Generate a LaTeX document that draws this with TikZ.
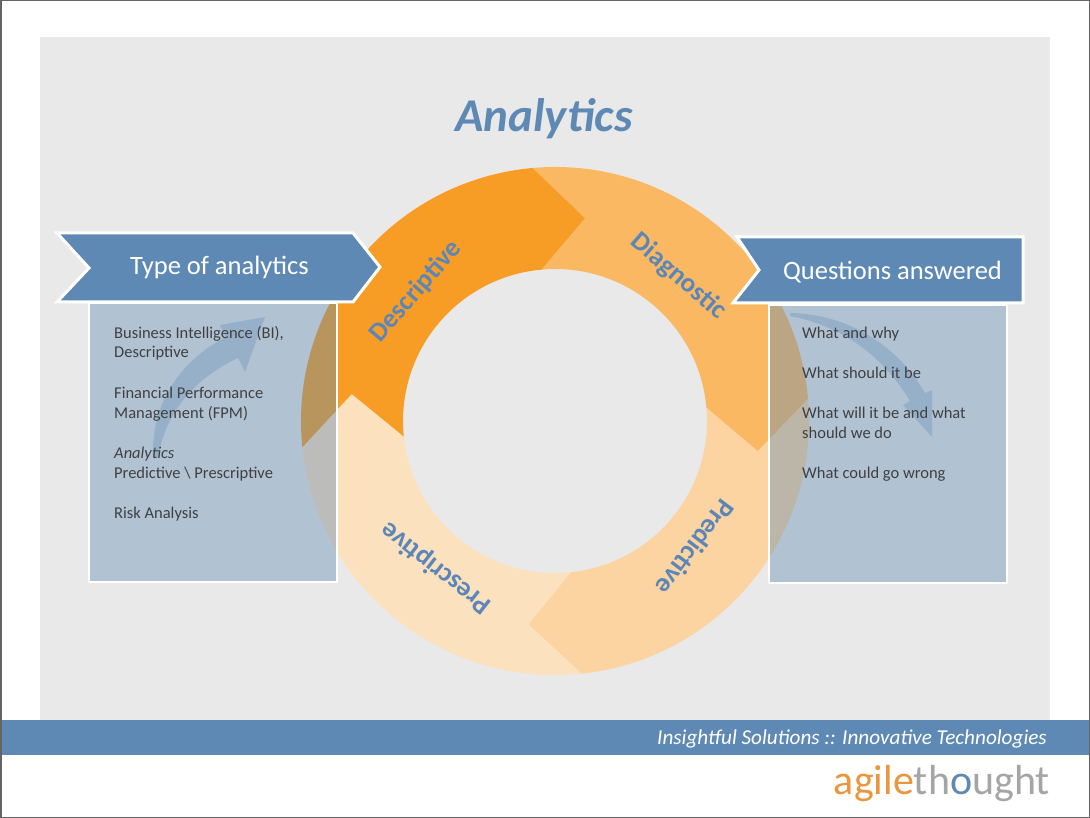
\documentclass[tikz,border=0pt]{standalone}
\usepackage{fontspec}
\setmainfont{Carlito}
\definecolor{bgpanel}{RGB}{233,233,233}
\definecolor{blueM}{RGB}{94,137,180}
\definecolor{oDesc}{RGB}{247,157,38}
\definecolor{oDiag}{RGB}{250,184,98}
\definecolor{oPred}{RGB}{252,212,161}
\definecolor{oPresc}{RGB}{252,225,190}
\definecolor{txtgray}{RGB}{64,64,64}
\definecolor{labelblue}{RGB}{91,134,183}
\definecolor{logoorange}{RGB}{233,150,62}
\definecolor{logogray}{RGB}{165,165,165}
\definecolor{framegray}{RGB}{100,100,100}
\newcommand\ringseg[3]{%
  \fill[#3] (#1:254) arc[start angle=#1, end angle=#2, radius=254pt]
    -- ({#2-13.5}:205) -- (#2:152)
    arc[start angle=#2, end angle=#1, radius=152pt]
    -- ({#1-13.5}:205) -- cycle;}
\begin{document}
\begin{tikzpicture}[x=1pt,y=-1pt,
  ringlabel/.style={font=\fontsize{27}{30}\selectfont\bfseries, text=labelblue, inner sep=0pt},
  banner/.style={fill=blueM, draw=white, line width=3pt, line join=miter},
  bannertext/.style={font=\fontsize{26.5}{30}\selectfont, text=white, anchor=base, inner sep=0pt},
  infobox/.style={fill=blueM, fill opacity=0.4, draw=white, draw opacity=1, line width=2.5pt},
  boxline/.style={font=\fontsize{16.5}{20}\selectfont, text=txtgray, anchor=base west, inner sep=0pt},
  faintarrow/.style={fill=blueM, fill opacity=0.3},
  titlestyle/.style={font=\fontsize{47}{50}\selectfont\bfseries\itshape, text=blueM, anchor=base, inner sep=0pt}
]
\useasboundingbox (0,0) rectangle (1090,818);
\fill[white] (0,0) rectangle (1090,818);
\fill[bgpanel] (40,37) rectangle (1050,720);

% title
\node[titlestyle] (title) at (544,132) {Analytics};

% ring
\begin{scope}[shift={(555,421)}, y=1pt]
  \ringseg{186}{95}{oDesc}
  \ringseg{95}{5}{oDiag}
  \ringseg{5}{-84}{oPred}
  \ringseg{-84}{-174}{oPresc}
  \node[ringlabel, rotate=49] (ldesc) at (137:190) {Descriptive};
  \node[ringlabel, rotate=-41] (ldiag) at (49.5:190) {Diagnostic};
  \node[ringlabel, rotate=-127] (lpred) at (-42:189) {Predictive};
  \node[ringlabel, rotate=142] (lpresc) at (231:189) {Prescriptive};
\end{scope}

% info boxes
\draw[infobox] (89,303) rectangle (337,582);
\draw[infobox] (769,305) rectangle (1007,583);

% faint arrows inside boxes
\fill[faintarrow] (153,458) .. controls (151,405) and (178,362) .. (226,337)
  -- (220,325) -- (265,317) -- (245,372) -- (238,358)
  .. controls (196,378) and (166,410) .. (158,458) -- cycle;
\fill[faintarrow] (790,313) .. controls (848,314) and (897,345) .. (925,393)
  -- (932,390) -- (932,437) -- (903,405) -- (910,401)
  .. controls (882,355) and (842,326) .. (790,316) -- cycle;

% banners
\draw[banner] (57,233) -- (89,268) -- (57,302) -- (353,302) -- (380,267) -- (353,233) -- cycle;
\node[bannertext] (tleft) at (219.5,275) {Type of analytics};
\draw[banner] (737,237) -- (759,270) -- (733,303) -- (1023,303) -- (1023,237) -- cycle;
\node[bannertext] (tright) at (892.5,280) {Questions answered};

% left box text
\node[boxline] (l1) at (114,338) {Business Intelligence (BI),};
\node[boxline] (l2) at (114,358) {Descriptive};
\node[boxline] (l3) at (114,398) {Financial Performance};
\node[boxline] (l4) at (114,418) {Management (FPM)};
\node[boxline] (l5) at (114,458) {\itshape Analytics};
\node[boxline] (l6) at (114,478) {Predictive \textbackslash{} Prescriptive};
\node[boxline] (l7) at (114,518) {Risk Analysis};

% right box text
\node[boxline] (r1) at (802,338) {What and why};
\node[boxline] (r2) at (802,378) {What should it be};
\node[boxline] (r3) at (802,418) {What will it be and what};
\node[boxline] (r4) at (802,438) {should we do};
\node[boxline] (r5) at (802,478) {What could go wrong};

% footer
\fill[blueM] (0,720) rectangle (1090,755);
\node[font=\fontsize{21.2}{24}\selectfont\itshape, text=white, anchor=base east, inner sep=0pt] (foot) at (1047,744) {Insightful Solutions :: Innovative Technologies};
\node[font=\fontsize{42}{44}\selectfont, anchor=base east, inner sep=0pt] (logo) at (1050,794)
  {\color{logoorange}agile\color{logogray}th\color{blueM}o\color{logogray}ught};

% frame
\draw[framegray, line width=1.5pt] (0.75,0.75) rectangle (1089.25,817.25);
\end{tikzpicture}
\end{document}
